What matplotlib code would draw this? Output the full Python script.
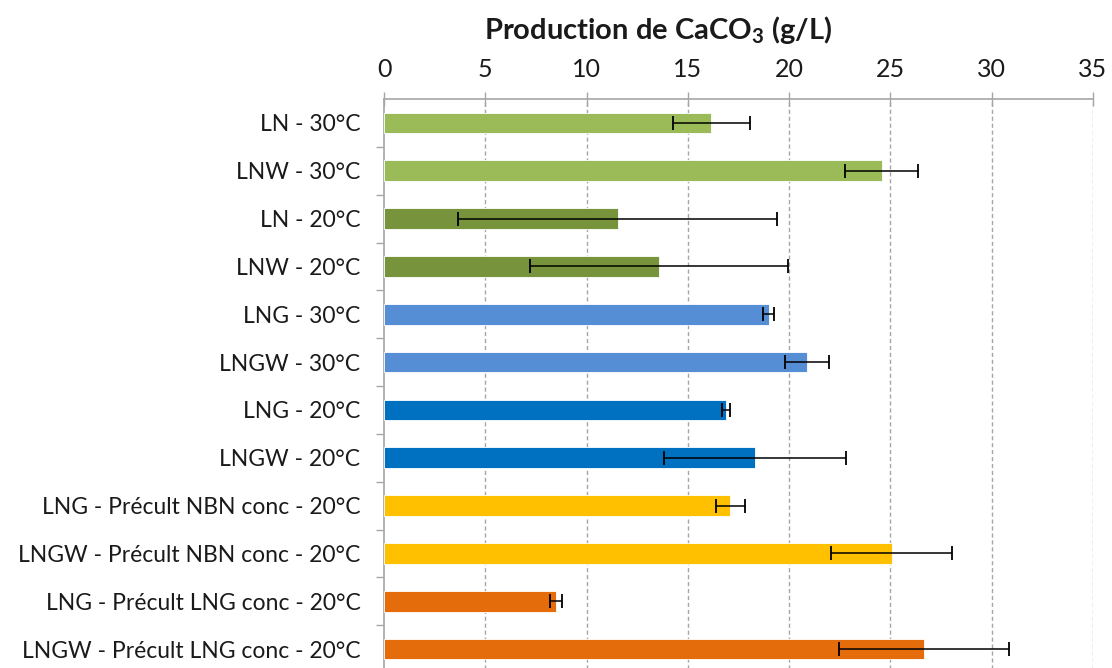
import matplotlib
matplotlib.use("Agg")
import matplotlib.pyplot as plt
from matplotlib.ticker import MultipleLocator

plt.rcParams['font.family'] = ['Lato', 'DejaVu Sans']
plt.rcParams['mathtext.fontset'] = 'custom'
plt.rcParams['mathtext.rm'] = 'Lato'
plt.rcParams['mathtext.bf'] = 'Lato:bold'

categories = [
    "LN - 30°C",
    "LNW - 30°C",
    "LN - 20°C",
    "LNW - 20°C",
    "LNG - 30°C",
    "LNGW - 30°C",
    "LNG - 20°C",
    "LNGW - 20°C",
    "LNG - Précult NBN conc - 20°C",
    "LNGW - Précult NBN conc - 20°C",
    "LNG - Précult LNG conc - 20°C",
    "LNGW - Précult LNG conc - 20°C",
]
values = [16.15, 24.57, 11.54, 13.57, 18.99, 20.88, 16.9, 18.3, 17.1, 25.06, 8.49, 26.64]
errors = [1.9, 1.81, 7.87, 6.35, 0.27, 1.07, 0.19, 4.5, 0.7, 3.0, 0.3, 4.2]
colors = ["#9BBB59", "#9BBB59", "#77933C", "#77933C",
          "#558ED5", "#558ED5", "#0070C0", "#0070C0",
          "#FFC000", "#FFC000", "#E46C0A", "#E46C0A"]
xticks = [0, 5, 10, 15, 20, 25, 30, 35]
title = r"Production de CaCO$_\mathbf{3}$ (g/L)"

W, H = 1112, 668
fig = plt.figure(figsize=(W / 100, H / 100), dpi=100)
left, right, top, bottom = 384, 1093, 99, 673
ax = fig.add_axes([left / W, 1 - bottom / H, (right - left) / W, (bottom - top) / H])

ypos = list(range(len(categories)))
ax.barh(ypos, values, height=0.43, color=colors, edgecolor="white", linewidth=0.6, zorder=3)
ax.errorbar(values, ypos, xerr=errors, fmt="none", ecolor="black", elinewidth=1.1,
            capsize=5, capthick=1.3, zorder=4)

ax.set_ylim(len(categories) - 0.5, -0.5)
ax.set_xlim(0, 35)
ax.set_xticks(xticks)
ax.xaxis.tick_top()
ax.tick_params(axis="x", which="major", direction="inout", length=10, width=1,
               color="#A6A6A6", labelsize=18, pad=8, labelcolor="#1a1a1a")
ax.set_yticks(ypos)
ax.set_yticklabels(categories)
ax.set_yticks([y + 0.5 for y in ypos[:-1]], minor=True)
ax.tick_params(axis="y", which="major", length=0, labelsize=16.5, pad=17, labelcolor="#1a1a1a")
ax.tick_params(axis="y", which="minor", length=6, width=1, color="#A6A6A6", direction="out")

for x in xticks[1:]:
    ax.axvline(x, color="#A6A6A6", linestyle=(0, (3, 2)), linewidth=1, zorder=1)

for s in ["right", "bottom"]:
    ax.spines[s].set_visible(False)
for s in ["top", "left"]:
    ax.spines[s].set_color("#A6A6A6")
    ax.spines[s].set_linewidth(1.2)

fig.text(658 / W, 1 - 30 / H, title, ha="center", va="center", fontsize=21,
         fontweight="bold", color="#1a1a1a")

fig.savefig("out.png", dpi=100)
